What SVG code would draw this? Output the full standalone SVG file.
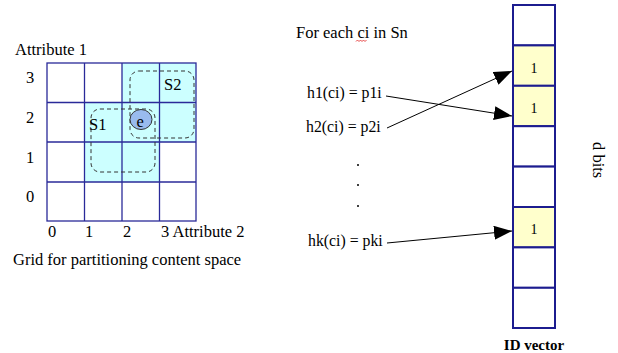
<svg xmlns="http://www.w3.org/2000/svg" width="618" height="353" viewBox="0 0 618 353">
<style>
text{font-family:"Liberation Serif","Times New Roman",serif;fill:#000;}
.t{font-size:16.5px;}
.s{font-size:15.8px;}
.one{font-size:14px;text-anchor:middle;}
.cell{stroke:#2a2a99;stroke-width:1.3;}
.cy{fill:#ccffff;}
.wh{fill:#ffffff;}
.bit{stroke:#1c1c8f;stroke-width:2;}
.yl{fill:#ffffcc;}
.dash{fill:none;stroke:#333;stroke-width:1;stroke-dasharray:4,3;}
.conn{fill:none;stroke:#000;stroke-width:1;}
</style>
<defs>
<marker id="ah" markerUnits="userSpaceOnUse" markerWidth="19" markerHeight="14" refX="18" refY="7" orient="auto">
<path d="M0,0 L18,7 L0,14 z" fill="#000"/>
</marker>
</defs>
<rect width="618" height="353" fill="#fff"/>

<g id="grid">
<rect class="cy" x="122" y="63" width="74" height="39.5"/>
<rect class="cy" x="84.5" y="102.5" width="111.5" height="39.5"/>
<rect class="cy" x="84.5" y="142" width="75" height="40"/>
<g class="cell" fill="none">
<rect x="47" y="63" width="149" height="158"/>
<line x1="84.5" y1="63" x2="84.5" y2="221"/>
<line x1="122" y1="63" x2="122" y2="221"/>
<line x1="159.5" y1="63" x2="159.5" y2="221"/>
<line x1="47" y1="102.5" x2="196" y2="102.5"/>
<line x1="47" y1="142" x2="196" y2="142"/>
<line x1="47" y1="182" x2="196" y2="182"/>
</g>
</g>

<g id="S2">
<rect class="dash" x="130" y="71" width="64" height="67" rx="9"/>
<text class="t" x="164" y="90">S2</text>
</g>
<g id="S1">
<rect class="dash" x="91" y="109" width="64" height="63" rx="9"/>
<text class="t" x="89" y="130">S1</text>
</g>
<g id="e">
<ellipse cx="141" cy="119.5" rx="11" ry="10" fill="#99bbee" stroke="#333" stroke-width="1"/>
<text class="t" x="136.5" y="127">e</text>
</g>

<g id="axis-labels">
<text class="t" x="15" y="55">Attribute 1</text>
<text class="t" x="26" y="83">3</text>
<text class="t" x="26" y="123">2</text>
<text class="t" x="26" y="163">1</text>
<text class="t" x="26" y="202">0</text>
<text class="t" x="48" y="237">0</text>
<text class="t" x="85" y="237">1</text>
<text class="t" x="123" y="237">2</text>
<text class="t" x="161" y="237">3 Attribute 2</text>
<text class="t" x="13" y="265">Grid for partitioning content space</text>
</g>

<g id="header">
<text class="t" x="296" y="38">For each ci in Sn</text>
<path d="M356,41.5 l1.5,-1.5 l1.5,1.5 l1.5,-1.5 l1.5,1.5 l1.5,-1.5 l1.5,1.5 l1.5,-1.5" fill="none" stroke="#e02020" stroke-width="0.8"/>
</g>

<g id="h1"><text class="s" x="307" y="98">h1(ci) = p1i</text></g>
<g id="h2"><text class="s" x="306" y="132">h2(ci) = p2i</text></g>
<g id="dots" fill="#000">
<circle cx="358" cy="165" r="1"/>
<circle cx="358" cy="185" r="1"/>
<circle cx="358" cy="206" r="1"/>
</g>
<g id="hk"><text class="s" x="308" y="246">hk(ci) = pki</text></g>

<g id="id-vector">
<rect class="bit wh" x="513" y="5" width="42" height="40.4"/>
<rect class="bit yl" x="513" y="45.4" width="42" height="40.4"/>
<rect class="bit yl" x="513" y="85.8" width="42" height="40.4"/>
<rect class="bit wh" x="513" y="126.2" width="42" height="40.4"/>
<rect class="bit wh" x="513" y="166.6" width="42" height="40.4"/>
<rect class="bit yl" x="513" y="207" width="42" height="40.4"/>
<rect class="bit wh" x="513" y="247.4" width="42" height="40.4"/>
<rect class="bit wh" x="513" y="287.8" width="42" height="40.2"/>
<text class="one" x="534" y="73">1</text>
<text class="one" x="534" y="113">1</text>
<text class="one" x="534" y="234">1</text>
<text x="534" y="350" style="font-size:15px;font-weight:bold;text-anchor:middle">ID vector</text>
</g>
<g id="d-bits">
<text class="t" transform="translate(593,142) rotate(90)">d bits</text>
</g>

<g id="connectors">
<line class="conn" x1="386" y1="96" x2="512" y2="116" marker-end="url(#ah)"/>
<line class="conn" x1="387" y1="128" x2="512" y2="71" marker-end="url(#ah)"/>
<line class="conn" x1="387" y1="243" x2="512" y2="231" marker-end="url(#ah)"/>
</g>
</svg>
